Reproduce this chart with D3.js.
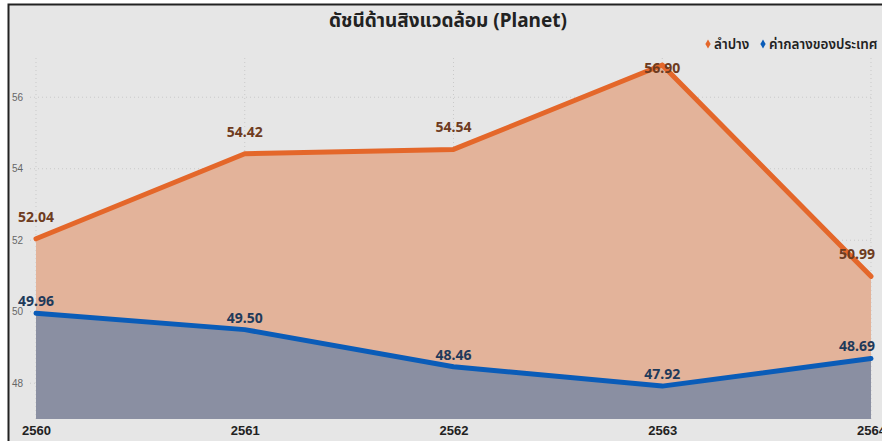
<!DOCTYPE html>
<html>
<head>
<meta charset="utf-8">
<script src="https://cdn.jsdelivr.net/npm/d3@7"></script>
<style>
  body { margin: 0; background: #fff; }
  svg { display: block; font-family: "Noto Sans", "Noto Sans Thai", sans-serif; }
</style>
</head>
<body>
<svg id="chart" width="882" height="441"></svg>
<script>
let years = ["2560", "2561", "2562", "2563", "2564"];
let lampang = [52.04, 54.42, 54.54, 56.90, 50.99];
let national = [49.96, 49.50, 48.46, 47.92, 48.69];
let yTicks = [48, 50, 52, 54, 56];
let seriesNames = ["ลำปาง", "ค่ากลางของประเทศ"];

let colors = {
    bg: "#e6e6e6",
    orangeLine: "#e4672a",
    orangeArea: "#e3b39a",
    orangeText: "#6e3b20",
    blueLine: "#0a5cb8",
    blueArea: "#8a8fa2",
    blueText: "#1f3a5a",
};

let svg = d3.select("#chart");

// panel background and border
svg.append("rect").attr("x", 8).attr("y", 4).attr("width", 874).attr("height", 437).attr("fill", colors.bg);
svg.append("path").attr("d", "M8.5,441V4.5H882").attr("fill", "none").attr("stroke", "#222").attr("stroke-width", 2);

let x = d3.scalePoint().domain(years).range([36, 871]);
let y = d3.scaleLinear().domain([47, 57.5]).range([419, 43.6]);

// grid
let grid = svg.append("g").attr("stroke", "#c9c9c9").attr("stroke-dasharray", "1,3");
grid.selectAll(".h").data(yTicks).enter().append("line")
    .attr("x1", 30).attr("x2", 871)
    .attr("y1", (d) => y(d)).attr("y2", (d) => y(d));
grid.selectAll(".v").data(years).enter().append("line")
    .attr("x1", (d) => x(d)).attr("x2", (d) => x(d))
    .attr("y1", 58).attr("y2", y(47));

// y axis labels
let yAxis = svg.append("g").attr("transform", "translate(23,0)")
    .call(d3.axisLeft(y).tickValues(yTicks).tickSize(0).tickPadding(0));
yAxis.select(".domain").remove();
yAxis.selectAll("text").attr("font-size", 10).attr("fill", "#666").attr("text-anchor", "end");

// x axis labels
let xAxis = svg.append("g").attr("transform", "translate(0,423)")
    .call(d3.axisBottom(x).tickSize(0).tickPadding(0));
xAxis.select(".domain").remove();
xAxis.selectAll("text").attr("font-size", 13).attr("font-weight", "bold").attr("fill", "#222").attr("dy", "0.9em");

// areas and lines
let area = d3.area().x((d, i) => x(years[i])).y0(y(47)).y1((d) => y(d));
let line = d3.line().x((d, i) => x(years[i])).y((d) => y(d));

svg.append("path").datum(lampang).attr("d", area).attr("fill", colors.orangeArea);
svg.append("path").datum(national).attr("d", area).attr("fill", colors.blueArea);
svg.append("path").datum(lampang).attr("d", line).attr("fill", "none")
    .attr("stroke", colors.orangeLine).attr("stroke-width", 5).attr("stroke-linejoin", "round").attr("stroke-linecap", "round");
svg.append("path").datum(national).attr("d", line).attr("fill", "none")
    .attr("stroke", colors.blueLine).attr("stroke-width", 5).attr("stroke-linejoin", "round").attr("stroke-linecap", "round");

// data labels - keep them inside the panel on the right edge
let labelX = (d, i) => Math.min(x(years[i]), 857);

svg.append("g").selectAll("text").data(lampang).enter().append("text")
    .attr("x", labelX)
    .attr("y", (d) => Math.max(y(d) - 22, 68))
    .attr("dy", "0.35em")
    .attr("text-anchor", "middle")
    .attr("font-size", 14).attr("font-weight", "bold").attr("fill", colors.orangeText)
    .text((d) => d.toFixed(2));

svg.append("g").selectAll("text").data(national).enter().append("text")
    .attr("x", labelX)
    .attr("y", (d) => y(d) - 12)
    .attr("dy", "0.35em")
    .attr("text-anchor", "middle")
    .attr("font-size", 14).attr("font-weight", "bold").attr("fill", colors.blueText)
    .text((d) => d.toFixed(2));

// title
svg.append("text").attr("x", 448).attr("y", 27).attr("text-anchor", "middle")
    .attr("font-size", 19).attr("font-weight", "bold").attr("fill", "#222")
    .text("ดัชนีด้านสิงแวดล้อม (Planet)");

// legend
let legend = svg.append("g").attr("font-size", 13.5).attr("font-weight", 600).attr("fill", "#222");
let legendX = [708, 763];
let legendColors = [colors.orangeLine, colors.blueLine];
seriesNames.forEach((name, i) => {
    legend.append("path")
        .attr("d", d3.symbol(d3.symbolDiamond, 24)())
        .attr("transform", `translate(${legendX[i]},44)`)
        .attr("fill", legendColors[i]);
    legend.append("text").attr("x", legendX[i] + 6).attr("y", 44).attr("dy", "0.35em").text(name);
});
</script>
</body>
</html>
